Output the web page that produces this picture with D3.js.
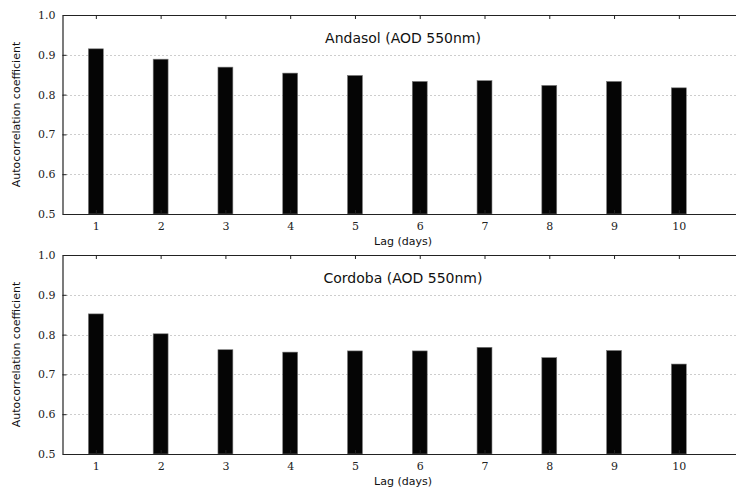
<!DOCTYPE html>
<html>
<head>
<meta charset="utf-8">
<script src="https://cdn.jsdelivr.net/npm/d3@7"></script>
<style>
  html, body { margin: 0; padding: 0; background: #fff; }
  svg { display: block; }
</style>
</head>
<body>
<script>
// Lag (days) and autocorrelation of AOD at 550 nm for two sites
const lags = [1, 2, 3, 4, 5, 6, 7, 8, 9, 10];
const andasol = [0.915, 0.889, 0.869, 0.854, 0.848, 0.833, 0.835, 0.823, 0.833, 0.817];
const cordoba = [0.852, 0.802, 0.762, 0.756, 0.759, 0.759, 0.768, 0.742, 0.760, 0.726];
const yTicks = [0.5, 0.6, 0.7, 0.8, 0.9, 1.0];
const gridTicks = [0.6, 0.7, 0.8, 0.9];
const titles = ["Andasol (AOD 550nm)", "Cordoba (AOD 550nm)"];

const W = 736, H = 489;
const svg = d3.select("body").append("svg").attr("width", W).attr("height", H);
svg.append("rect").attr("width", W).attr("height", H).attr("fill", "#fff");

const x = d3.scaleLinear().domain([0.485, 11.5]).range([62.5, 776]);
const barW = x(1.115) - x(0.885);

const panels = [
  { values: andasol, title: titles[0], top: 15, bottom: 214 },
  { values: cordoba, title: titles[1], top: 255, bottom: 454 }
];

const axisColor = "#222";

panels.forEach(p => {
  const y = d3.scaleLinear().domain([0.5, 1.0]).range([p.bottom, p.top]);
  const g = svg.append("g");

  // dotted horizontal grid
  g.selectAll(".grid").data(gridTicks).enter().append("line")
    .attr("x1", x.range()[0]).attr("x2", W)
    .attr("y1", d => Math.round(y(d)) + 0.5).attr("y2", d => Math.round(y(d)) + 0.5)
    .attr("stroke", "#9a9a9a").attr("stroke-width", 1)
    .attr("stroke-dasharray", "1,3");

  // bars
  g.selectAll(".bar").data(lags).enter().append("rect")
    .attr("x", (d) => x(d) - barW / 2)
    .attr("width", barW)
    .attr("y", (d, i) => y(p.values[i]))
    .attr("height", (d, i) => y(0.5) - y(p.values[i]))
    .attr("fill", "#050505")
    .attr("stroke", "#777").attr("stroke-width", 0.6);

  // left axis (ticks point inward)
  const yAxis = d3.axisLeft(y).tickValues(yTicks).tickFormat(d3.format(".1f"))
    .tickSizeInner(-4).tickSizeOuter(0).tickPadding(7);
  const ya = g.append("g").attr("transform", `translate(${x.range()[0]},0)`).call(yAxis);
  ya.select(".domain").attr("stroke", axisColor).attr("stroke-width", 1.2);
  ya.selectAll(".tick line").attr("stroke", axisColor);
  ya.selectAll(".tick text").attr("font-family", "DejaVu Serif").attr("font-size", 11).attr("fill", "#222");

  // bottom axis (ticks point inward)
  const xAxis = d3.axisBottom(x).tickValues(lags).tickFormat(d3.format("d"))
    .tickSizeInner(-4).tickSizeOuter(0).tickPadding(8);
  const xa = g.append("g").attr("transform", `translate(0,${p.bottom})`).call(xAxis);
  xa.select(".domain").attr("stroke", axisColor).attr("stroke-width", 1.2);
  xa.selectAll(".tick line").attr("stroke", axisColor);
  xa.selectAll(".tick text").attr("font-family", "DejaVu Serif").attr("font-size", 11).attr("fill", "#222");

  // top axis: border with inward ticks, no labels
  const tAxis = d3.axisTop(x).tickValues(lags).tickFormat("").tickSizeInner(-4).tickSizeOuter(0);
  const ta = g.append("g").attr("transform", `translate(0,${p.top})`).call(tAxis);
  ta.select(".domain").attr("stroke", axisColor).attr("stroke-width", 1.2);
  ta.selectAll(".tick line").attr("stroke", axisColor);

  // panel title
  g.append("text")
    .attr("x", 403).attr("y", p.top + 28)
    .attr("text-anchor", "middle")
    .attr("font-family", "DejaVu Sans").attr("font-size", 14).attr("fill", "#111")
    .text(p.title);

  // axis labels
  g.append("text")
    .attr("x", 403).attr("y", p.bottom + 31)
    .attr("text-anchor", "middle")
    .attr("font-family", "DejaVu Sans").attr("font-size", 11).attr("fill", "#111")
    .text("Lag (days)");

  g.append("text")
    .attr("transform", `translate(20,${(p.top + p.bottom) / 2}) rotate(-90)`)
    .attr("text-anchor", "middle")
    .attr("font-family", "DejaVu Sans").attr("font-size", 11).attr("fill", "#111")
    .text("Autocorrelation coefficient");
});
</script>
</body>
</html>
